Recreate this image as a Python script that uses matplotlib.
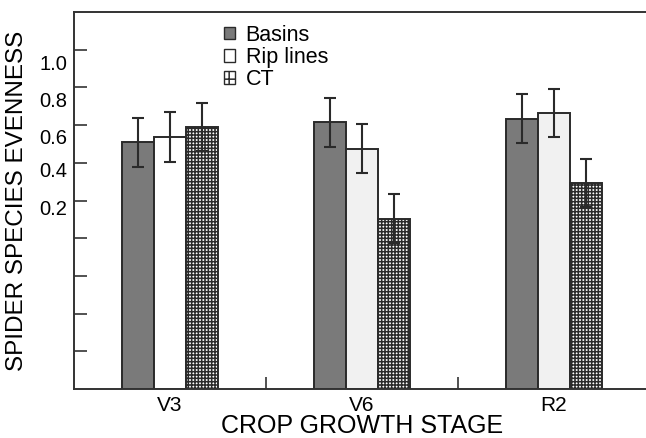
import numpy as np
import matplotlib
matplotlib.use('Agg')
import matplotlib.pyplot as plt
from matplotlib.patches import Patch

plt.rcParams['font.family'] = ['Liberation Sans', 'DejaVu Sans']
plt.rcParams['hatch.linewidth'] = 1.1

# datos (escala del eje: 0 abajo, marcas cada 0.1)
stages = ['V3', 'V6', 'R2']
series = ['Basins', 'Rip lines', 'CT']
basins = [0.654, 0.707, 0.717]
basins_err = [0.065, 0.065, 0.065]
rip = [0.669, 0.637, 0.732]
rip_err = [0.066, 0.065, 0.064]
ct = [0.694, 0.452, 0.546]
ct_err = [0.064, 0.064, 0.064]

# etiquetas del eje y tal como aparecen (desalineadas en el original)
ytick_labels = ['1.0', '0.8', '0.6', '0.4', '0.2']
ytick_label_pos = [0.865, 0.767, 0.671, 0.581, 0.482]

fig = plt.figure(figsize=(6.46, 4.38), dpi=100)
ax = fig.add_axes([74 / 646, 49 / 438, 576 / 646, 377 / 438])

x = np.arange(len(stages))
w = 0.167
edge = '#2a2a2a'
err_kw = dict(ecolor='#2a2a2a', elinewidth=1.5, capsize=4, capthick=1.5)

ax.bar(x - w, basins, w, yerr=basins_err, color='#7a7a7a', edgecolor=edge,
       linewidth=1.4, error_kw=err_kw, zorder=2)
rip_colors = ['white', '#f1f1f1', '#f1f1f1']
ax.bar(x, rip, w, yerr=rip_err, color=rip_colors, edgecolor=edge,
       linewidth=1.4, error_kw=err_kw, zorder=2)
ax.bar(x + w, ct, w, yerr=ct_err, color='white', edgecolor=edge, hatch='+++++',
       linewidth=1.4, error_kw=err_kw, zorder=2)

ax.set_xlim(-0.5, 2.5)
ax.set_ylim(0, 1.0)

# marcas
ax.set_xticks(x)
ax.set_xticklabels(stages, fontsize=15)
ax.set_xticks([0.5, 1.5], minor=True)
ax.tick_params(axis='x', which='major', length=0, pad=5)
ax.tick_params(axis='x', which='minor', direction='in', length=9, width=1.2, color='#333')

ax.set_yticks(np.arange(0.1, 1.0, 0.1))
ax.set_yticklabels([])
ax.tick_params(axis='y', which='major', direction='in', length=9, width=1.2, color='#333')
ax.set_yticks(ytick_label_pos, minor=True)
ax.set_yticklabels(ytick_labels, minor=True, fontsize=14.5)
ax.tick_params(axis='y', which='minor', length=0, pad=5)

for s in ['left', 'bottom', 'top']:
    ax.spines[s].set_linewidth(1.4)
    ax.spines[s].set_color('#333')
ax.spines['right'].set_visible(False)

ax.set_xlabel('CROP GROWTH STAGE', fontsize=18, labelpad=-1)
ax.set_ylabel('SPIDER SPECIES EVENNESS', fontsize=17.5)
ax.yaxis.set_label_coords(-0.08, 0.5)

handles = [Patch(facecolor='#7a7a7a', edgecolor=edge),
           Patch(facecolor='white', edgecolor=edge),
           Patch(facecolor='white', edgecolor=edge, hatch='++')]
ax.legend(handles, series, loc='upper left', bbox_to_anchor=(224 / 646, 1 - 25 / 438),
          bbox_transform=fig.transFigure, frameon=False, fontsize=15.5,
          borderpad=0, borderaxespad=0, handlelength=0.5, handleheight=0.5,
          handletextpad=0.5, labelspacing=0.05)

fig.savefig('out.png', dpi=100)
